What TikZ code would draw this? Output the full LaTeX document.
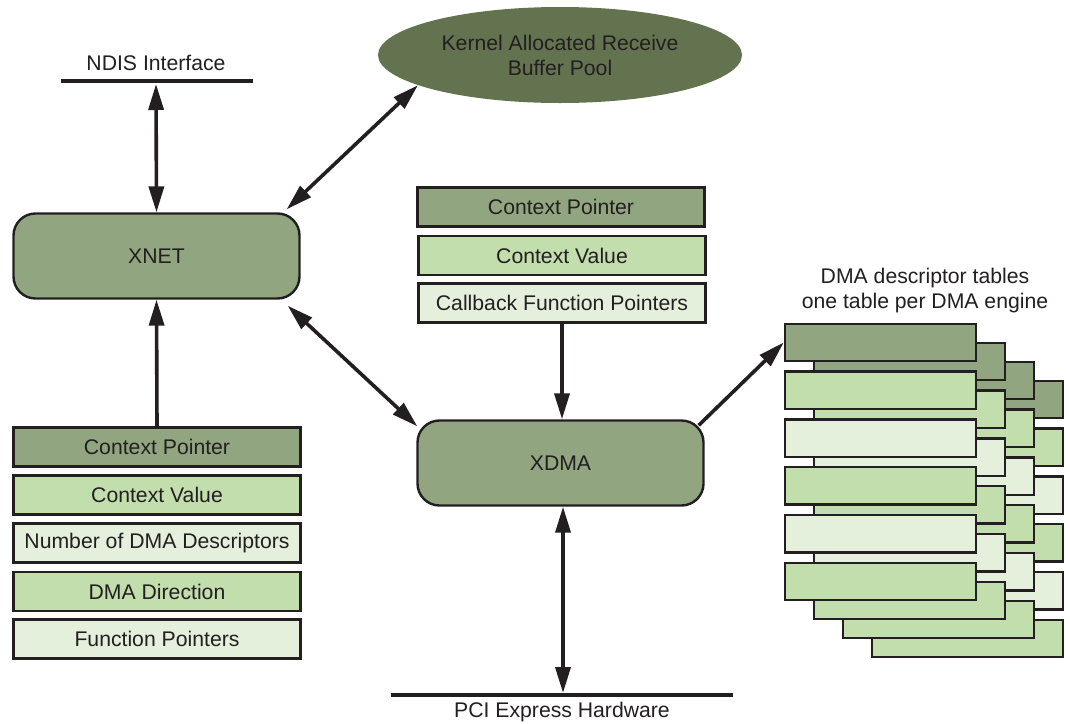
\documentclass[tikz,border=0pt]{standalone}
\usepackage{fontspec}
\setmainfont{Liberation Sans}
\usetikzlibrary{shapes.geometric,arrows.meta}
\definecolor{gdark}{HTML}{91A680}
\definecolor{gmid}{HTML}{C3DEAD}
\definecolor{glight}{HTML}{E4F0DC}
\definecolor{gell}{HTML}{63724F}
\definecolor{ink}{HTML}{231F20}
\tikzset{
  txt/.style={font=\fontsize{21.2}{25}\selectfont, text=ink},
  fbox/.style={txt, draw=ink, line width=2.4pt, minimum width=287pt, minimum height=39pt, inner sep=0pt},
  tbl/.style={draw=ink, line width=2.4pt, minimum width=191pt, minimum height=37.5pt, inner sep=0pt},
  rbox/.style={txt, draw=ink, fill=gdark, line width=2.4pt, rounded corners=22pt, minimum width=286pt, minimum height=85pt, inner sep=0pt},
  bar/.style={draw=ink, line width=3.4pt},
  conn/.style={draw=ink, line width=3.6pt, -{Triangle[length=26pt,width=15pt]}},
  dconn/.style={draw=ink, line width=3.6pt, {Triangle[length=26pt,width=15pt]}-{Triangle[length=26pt,width=15pt]}},
}
\begin{document}
\begin{tikzpicture}[x=1pt,y=-1pt]
\useasboundingbox[fill=white] (0,0) rectangle (1070,723);

% NDIS interface
\node[txt] (ndistxt) at (156,63) {NDIS Interface};
\coordinate (ndisL) at (61,81);
\coordinate (ndisR) at (253,81);
\coordinate (ndis) at (156,84);
\draw[bar] (ndisL) -- (ndisR);

% kernel buffer pool
\node[txt, ellipse, fill=gell, minimum width=364pt, minimum height=96pt, inner sep=0pt, align=center] (kern) at (560,55) {Kernel Allocated Receive\\Buffer Pool};

% XNET
\node[rbox] (xnet) at (156.5,256) {XNET};

% middle stack
\node[fbox, fill=gdark]  (cp2) at (561,207) {Context Pointer};
\node[fbox, fill=gmid]   (cv2) at (562,255.5) {Context Value};
\node[fbox, fill=glight] (cb2) at (562,303) {Callback Function Pointers};

% XDMA
\node[rbox] (xdma) at (560.5,463) {XDMA};

% left stack
\node[fbox, fill=gdark]  (cp1) at (157,447) {Context Pointer};
\node[fbox, fill=gmid]   (cv1) at (157,495) {Context Value};
\node[fbox, fill=glight] (nd1) at (157,543) {Number of DMA Descriptors};
\node[fbox, fill=gmid]   (dd1) at (157,591.5) {DMA Direction};
\node[fbox, fill=glight] (fp1) at (157,639) {Function Pointers};

% PCI express
\node[txt] (pcitxt) at (562,712) {PCI Express Hardware};
\coordinate (pciL) at (391,695);
\coordinate (pciR) at (733,695);
\coordinate (pci) at (563,693);
\draw[bar] (pciL) -- (pciR);

% DMA descriptor tables
\node[txt, align=center] (tbltxt) at (925,291) {DMA descriptor tables\\one table per DMA engine};
\foreach \k in {3,2,1,0} {
  \foreach \i/\c in {0/gdark,1/gmid,2/glight,3/gmid,4/glight,5/gmid} {
    \node[tbl, fill=\c] (t\k\i) at ({880.5+29*\k},{342.5+47.8*\i+19*\k}) {};
  }
}

% connectors
\draw[dconn] (ndis) -- (xnet.north);
\draw[dconn] ([shift={(-14,-3)}]xnet.north east) -- (kern.192);
\draw[conn] (cp1.north) -- (xnet.south);
\draw[dconn] ([shift={(-13,6)}]xnet.south east) -- ([shift={(1,7)}]xdma.north west);
\draw[conn] (cb2.south) -- (cb2.south |- xdma.north);
\draw[dconn] (xdma.south -| pci) -- (pci);
\draw[conn] ([shift={(-6,6)}]xdma.north east) -- (t00.west);
\end{tikzpicture}
\end{document}
